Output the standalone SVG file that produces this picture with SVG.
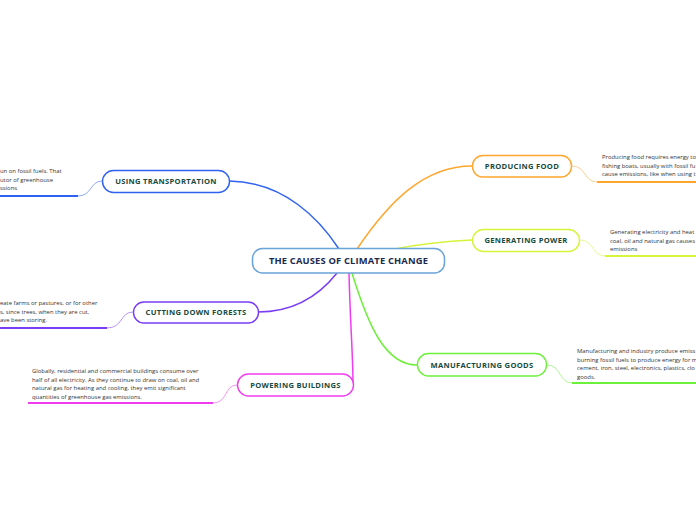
<svg xmlns="http://www.w3.org/2000/svg" width="696" height="520" viewBox="0 0 696 520">
<style>
.bg{fill:#ffffff}
.node{fill:#ffffff;stroke-width:1.4}
.lbl{font-family:"Open Sans","Noto Sans","Liberation Sans",sans-serif;font-weight:bold;font-size:7.6px;letter-spacing:0.3px;fill:#164a3d;text-anchor:middle}
.title{font-family:"Open Sans","Noto Sans","Liberation Sans",sans-serif;font-weight:bold;font-size:9.4px;letter-spacing:0.15px;fill:#1b2a4e;text-anchor:middle}
.desc{font-family:"Open Sans","Noto Sans","Liberation Sans",sans-serif;font-size:5.9px;fill:#333333}
.con{fill:none;stroke-width:1.5;stroke-linecap:round}
.ul{fill:none;stroke-width:1.8}
.tie{fill:none;stroke-width:0.9;opacity:0.6}
</style>
<rect class="bg" x="0" y="0" width="696" height="520"/>
<g id="connectors">
<path class="con" stroke="#2f62f0" d="M339,249 C320,220 285,182 229,181"/>
<path class="con" stroke="#ffa62e" d="M357,249 C390,200 425,166 472,166"/>
<path class="con" stroke="#d6f53a" d="M395,249 C425,243 450,241 472,240"/>
<path class="con" stroke="#6cf03a" d="M352,273 C368,325 385,365 417,365"/>
<path class="con" stroke="#f03cf0" d="M349,273 C350,320 353,355 353,384"/>
<path class="con" stroke="#7a3cf5" d="M337,273 C318,297 292,312 258,312"/>
</g>
<g id="central">
<rect x="252.5" y="248.5" width="192" height="24.5" rx="10" fill="#ffffff" stroke="#6aa3d8" stroke-width="1.5"/>
<text class="title" x="348.5" y="264.3">THE CAUSES OF CLIMATE CHANGE</text>
</g>
<g id="transportation">
<path class="tie" stroke="#2f62f0" d="M78,196 C92,196 90,181 102,181"/>
<path class="ul" stroke="#2f62f0" d="M0,196 L78,196"/>
<text class="desc"><tspan x="0" y="173">un on fossil fuels. That</tspan><tspan x="0" y="181.5">utor of greenhouse</tspan><tspan x="0" y="190">ssions</tspan></text>
<rect class="node" stroke="#2f62f0" x="102.5" y="170.5" width="127" height="22" rx="11"/>
<text class="lbl" x="166" y="184.3">USING TRANSPORTATION</text>
</g>
<g id="forests">
<path class="tie" stroke="#7a3cf5" d="M107,328 C123,328 120,312 133,312"/>
<path class="ul" stroke="#7a3cf5" d="M0,328 L107,328"/>
<text class="desc"><tspan x="0" y="305">eate farms or pastures, or for other</tspan><tspan x="0" y="313.5">s, since trees, when they are cut,</tspan><tspan x="0" y="322">ave been storing.</tspan></text>
<rect class="node" stroke="#7a3cf5" x="133.5" y="302" width="125" height="21" rx="10.5"/>
<text class="lbl" x="196" y="315.3">CUTTING DOWN FORESTS</text>
</g>
<g id="buildings">
<path class="tie" stroke="#f03cf0" d="M213,403 C228,403 224,385 237,385"/>
<path class="ul" stroke="#f03cf0" d="M28,403 L213,403"/>
<text class="desc"><tspan x="32" y="373">Globally, residential and commercial buildings consume over</tspan><tspan x="32" y="381.5">half of all electricity. As they continue to draw on coal, oil and</tspan><tspan x="32" y="390">natural gas for heating and cooling, they emit significant</tspan><tspan x="32" y="398.5">quantities of greenhouse gas emissions.</tspan></text>
<rect class="node" stroke="#f03cf0" x="237.5" y="374" width="116" height="22" rx="11"/>
<text class="lbl" x="295.5" y="387.8">POWERING BUILDINGS</text>
</g>
<g id="food">
<path class="tie" stroke="#ffa62e" d="M572,166 C586,166 584,182 597,182"/>
<path class="ul" stroke="#ffa62e" d="M597,182 L696,182"/>
<text class="desc"><tspan x="602" y="159">Producing food requires energy to</tspan><tspan x="602" y="167.5">fishing boats, usually with fossil fu</tspan><tspan x="602" y="176">cause emissions, like when using t</tspan></text>
<rect class="node" stroke="#ffa62e" x="472.5" y="155.5" width="99" height="21.5" rx="10.5"/>
<text class="lbl" x="522" y="169">PRODUCING FOOD</text>
</g>
<g id="power">
<path class="tie" stroke="#d6f53a" d="M580,240 C594,240 592,256 605,256"/>
<path class="ul" stroke="#d6f53a" d="M605,256 L696,256"/>
<text class="desc"><tspan x="610" y="234">Generating electricity and heat</tspan><tspan x="610" y="242.5">coal, oil and natural gas causes</tspan><tspan x="610" y="251">emissions</tspan></text>
<rect class="node" stroke="#d6f53a" x="472.5" y="229.5" width="107" height="22" rx="11"/>
<text class="lbl" x="526" y="243.3">GENERATING POWER</text>
</g>
<g id="manufacturing">
<path class="tie" stroke="#6cf03a" d="M547,365 C561,365 559,383 572,383"/>
<path class="ul" stroke="#6cf03a" d="M572,383 L696,383"/>
<text class="desc"><tspan x="577" y="353">Manufacturing and industry produce emiss</tspan><tspan x="577" y="361.5">burning fossil fuels to produce energy for m</tspan><tspan x="577" y="370">cement, iron, steel, electronics, plastics, clo</tspan><tspan x="577" y="378.5">goods.</tspan></text>
<rect class="node" stroke="#6cf03a" x="417.5" y="353.5" width="129" height="22.5" rx="11"/>
<text class="lbl" x="482" y="367.5">MANUFACTURING GOODS</text>
</g>
</svg>
